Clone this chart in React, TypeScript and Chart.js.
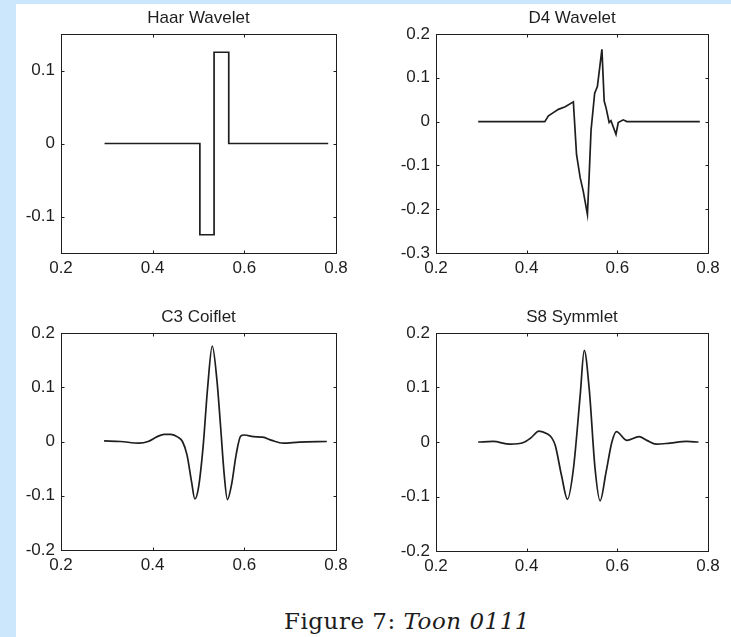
import { useEffect, useRef } from "react";
import { Chart, registerables } from "chart.js";

Chart.register(...registerables);

// Sample positions and wavelet values for each panel
const haarT = [0.295, 0.503, 0.503, 0.534, 0.534, 0.566, 0.566, 0.783];
const haarPsi = [0, 0, -0.125, -0.125, 0.125, 0.125, 0, 0];

const d4T = [
  0.293, 0.44, 0.448, 0.458, 0.47, 0.485, 0.503, 0.51, 0.518, 0.525, 0.534,
  0.538, 0.542, 0.55, 0.556, 0.566, 0.571, 0.575, 0.582, 0.586, 0.597, 0.602,
  0.613, 0.621, 0.782,
];
const d4Psi = [
  0, 0, 0.013, 0.02, 0.028, 0.034, 0.045, -0.075, -0.128, -0.16, -0.212,
  -0.12, -0.02, 0.065, 0.08, 0.165, 0.047, 0.032, -0.002, 0.002, -0.029,
  -0.002, 0.004, 0, 0,
];

const c3T = [
  0.294, 0.33, 0.37, 0.39, 0.41, 0.425, 0.44, 0.455, 0.465, 0.475, 0.485,
  0.492, 0.5, 0.51, 0.52, 0.53, 0.54, 0.548, 0.556, 0.563, 0.572, 0.582,
  0.592, 0.6, 0.62, 0.64, 0.66, 0.685, 0.72, 0.78,
];
const c3Psi = [
  0.001, 0, -0.003, 0, 0.009, 0.013, 0.013, 0.008, 0, -0.025, -0.075, -0.106,
  -0.085, -0.01, 0.1, 0.176, 0.115, 0.03, -0.06, -0.107, -0.08, -0.025, 0.01,
  0.012, 0.009, 0.008, 0.002, -0.003, -0.001, 0,
];

const s8T = [
  0.293, 0.326, 0.363, 0.393, 0.41, 0.427, 0.445, 0.455, 0.463, 0.477, 0.49,
  0.503, 0.518, 0.527, 0.538, 0.551, 0.562, 0.575, 0.588, 0.598, 0.621,
  0.648, 0.665, 0.686, 0.716, 0.753, 0.779,
];
const s8Psi = [
  0, 0.001, -0.004, -0.001, 0.008, 0.02, 0.015, 0.008, -0.006, -0.062,
  -0.105, -0.05, 0.085, 0.168, 0.097, -0.05, -0.108, -0.056, 0, 0.019, 0.003,
  0.01, 0.003, -0.004, -0.002, 0.001, 0,
];

// Axis ticks
const xTicks = [0.2, 0.4, 0.6, 0.8];
const haarYTicks = [-0.1, 0, 0.1];
const d4YTicks = [-0.3, -0.2, -0.1, 0, 0.1, 0.2];
const c3YTicks = [-0.2, -0.1, 0, 0.1, 0.2];
const s8YTicks = [-0.2, -0.1, 0, 0.1, 0.2];

const FONT = "'Liberation Sans', Arial, Helvetica, sans-serif";
const INK = "#1e1e1e";

type PanelSpec = {
  title: string;
  t: number[];
  psi: number[];
  yMin: number;
  yMax: number;
  yTicks: number[];
  smooth: boolean;
  left: number;
  top: number;
  w: number;
  h: number;
  padRight: number;
};

const panels: PanelSpec[] = [
  { title: "Haar Wavelet", t: haarT, psi: haarPsi, yMin: -0.15, yMax: 0.15, yTicks: haarYTicks, smooth: false, left: 10, top: 0, w: 345, h: 290, padRight: 19 },
  { title: "D4 Wavelet", t: d4T, psi: d4Psi, yMin: -0.3, yMax: 0.2, yTicks: d4YTicks, smooth: false, left: 385, top: 0, w: 346, h: 290, padRight: 23 },
  { title: "C3 Coiflet", t: c3T, psi: c3Psi, yMin: -0.2, yMax: 0.2, yTicks: c3YTicks, smooth: true, left: 10, top: 299, w: 345, h: 288, padRight: 19 },
  { title: "S8 Symmlet", t: s8T, psi: s8Psi, yMin: -0.2, yMax: 0.2, yTicks: s8YTicks, smooth: true, left: 385, top: 299, w: 346, h: 289, padRight: 23 },
];

const fmt = (v: number) => (Math.abs(v) < 1e-9 ? "0" : v.toFixed(1));

// Boxed axes with short inward tick marks on all four sides
const framePlugin = {
  id: "boxFrame",
  afterDraw(chart: any) {
    const { ctx, chartArea: a, scales } = chart;
    const L = 3;
    const l = Math.round(a.left) + 0.5;
    const r = Math.round(a.right) + 0.5;
    const t = Math.round(a.top) + 0.5;
    const b = Math.round(a.bottom) + 0.5;
    ctx.save();
    ctx.strokeStyle = INK;
    ctx.lineWidth = 1;
    ctx.strokeRect(l, t, r - l, b - t);
    ctx.beginPath();
    scales.x.ticks.forEach((tk: any) => {
      const p = Math.round(scales.x.getPixelForValue(tk.value)) + 0.5;
      if (p - l < 2 || r - p < 2) return;
      ctx.moveTo(p, b);
      ctx.lineTo(p, b - L);
      ctx.moveTo(p, t);
      ctx.lineTo(p, t + L);
    });
    scales.y.ticks.forEach((tk: any) => {
      const p = Math.round(scales.y.getPixelForValue(tk.value)) + 0.5;
      if (p - t < 2 || b - p < 2) return;
      ctx.moveTo(l, p);
      ctx.lineTo(l + L, p);
      ctx.moveTo(r, p);
      ctx.lineTo(r - L, p);
    });
    ctx.stroke();
    ctx.restore();
  },
};

function Panel({ spec }: { spec: PanelSpec }) {
  const ref = useRef<HTMLCanvasElement>(null);

  useEffect(() => {
    if (!ref.current) return;
    const points = spec.t.map((x, i) => ({ x, y: spec.psi[i] }));
    const chart = new Chart(ref.current, {
      type: "scatter",
      data: {
        datasets: [
          {
            data: points,
            showLine: true,
            borderColor: INK,
            borderWidth: 1.7,
            pointRadius: 0,
            pointHoverRadius: 0,
            tension: 0,
            cubicInterpolationMode: spec.smooth ? "monotone" : "default",
          } as any,
        ],
      },
      options: {
        responsive: false,
        animation: false,
        events: [],
        layout: { padding: { left: 0, right: spec.padRight, top: 0, bottom: 0 } },
        plugins: {
          legend: { display: false },
          tooltip: { enabled: false },
          title: {
            display: true,
            text: spec.title,
            fullSize: false,
            color: INK,
            font: { family: FONT, size: 17, weight: "normal", lineHeight: 1.2 },
            padding: { top: 7.8, bottom: 5.8 },
          },
        },
        scales: {
          x: {
            type: "linear",
            min: 0.2,
            max: 0.8,
            grid: { display: false, drawTicks: false },
            border: { display: false },
            ticks: {
              color: INK,
              font: { family: FONT, size: 17 },
              padding: 5,
              maxRotation: 0,
              callback: (v: any) => fmt(Number(v)),
            },
            afterBuildTicks: (s: any) => {
              s.ticks = xTicks.map((value) => ({ value }));
            },
            afterFit: (s: any) => {
              s.height = 37;
            },
          },
          y: {
            type: "linear",
            min: spec.yMin,
            max: spec.yMax,
            grid: { display: false, drawTicks: false },
            border: { display: false },
            ticks: {
              color: INK,
              font: { family: FONT, size: 17 },
              padding: 6,
              callback: (v: any) => fmt(Number(v)),
            },
            afterBuildTicks: (s: any) => {
              s.ticks = spec.yTicks.map((value) => ({ value }));
            },
            afterFit: (s: any) => {
              s.width = 51;
            },
          },
        },
      },
      plugins: [framePlugin],
    });
    return () => chart.destroy();
  }, [spec]);

  return (
    <canvas
      ref={ref}
      width={spec.w}
      height={spec.h}
      style={{ position: "absolute", left: spec.left, top: spec.top }}
    />
  );
}

export default function App() {
  return (
    <div
      style={{
        position: "fixed",
        left: 0,
        top: 0,
        width: 731,
        height: 637,
        background: "#cce7fb",
        overflow: "hidden",
      }}
    >
      <div
        style={{
          position: "absolute",
          left: 16,
          top: 4,
          right: 0,
          bottom: 0,
          background: "#ffffff",
        }}
      />
      {panels.map((p) => (
        <Panel key={p.title} spec={p} />
      ))}
      <div
        style={{
          position: "absolute",
          left: 207,
          top: 610,
          width: 400,
          textAlign: "center",
          fontFamily: "'DejaVu Serif', 'Liberation Serif', serif",
          fontSize: 23,
          letterSpacing: "0.5px",
          lineHeight: "23px",
          color: "#1c1c1c",
          whiteSpace: "nowrap",
        }}
      >
        Figure 7: <i>Toon 0111</i>
      </div>
    </div>
  );
}
